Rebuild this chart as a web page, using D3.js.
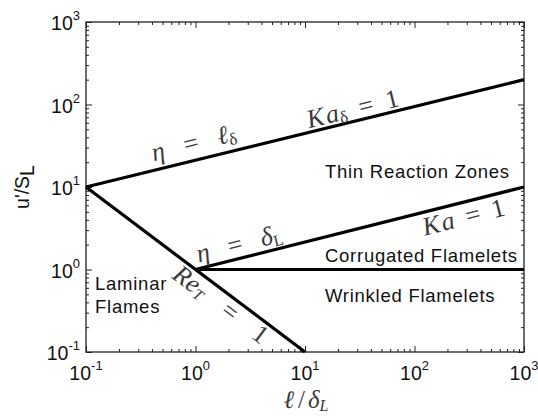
<!DOCTYPE html>
<html>
<head>
<meta charset="utf-8">
<script src="https://cdn.jsdelivr.net/npm/d3@7"></script>
<style>
  body { margin: 0; background: #fff; }
  svg { display: block; }
  .sans { font-family: "Liberation Sans", Arial, sans-serif; }
  .math { font-family: "Liberation Serif", "DejaVu Serif", serif; fill: #3a3a3a; }
</style>
</head>
<body>
<div id="chart"></div>
<script>
// regime diagram data (log-log)
const xDomain = [0.1, 1000];
const yDomain = [0.1, 1000];
const decadeTicks = [0.1, 1, 10, 100, 1000];
const tickExponents = ["-1", "0", "1", "2", "3"];

const etaEllLine = [[0.1, 10], [1000, 200]];   // eta = l_delta  (Ka_delta = 1)
const kaLine = [[1, 1], [1000, 10]];           // eta = delta_L  (Ka = 1)
const reLine = [[0.1, 10], [10, 0.1]];          // Re_T = 1
const unityLine = [[1, 1], [1000, 1]];          // u'/S_L = 1

const regionNames = ["Thin Reaction Zones", "Corrugated Flamelets", "Wrinkled Flamelets"];
const laminarName = ["Laminar", "Flames"];

const W = 538, H = 416;
const margin = {left: 86, right: 14, top: 22, bottom: 64};

const svg = d3.select('#chart').append('svg')
    .attr('width', W)
    .attr('height', H);

const x = d3.scaleLog().domain(xDomain).range([margin.left, W - margin.right]);
const y = d3.scaleLog().domain(yDomain).range([H - margin.bottom, margin.top]);

let minor = [];
decadeTicks.slice(0, -1).forEach(d => {
    for (let k = 2; k <= 9; k++) minor.push(d * k);
});

// minor + major ticks on all four sides, pointing inward
const axes = [
    {ax: d3.axisBottom(x), tr: `translate(0,${y(0.1)})`},
    {ax: d3.axisTop(x), tr: `translate(0,${y(1000)})`},
    {ax: d3.axisLeft(y), tr: `translate(${x(0.1)},0)`},
    {ax: d3.axisRight(y), tr: `translate(${x(1000)},0)`}
];
axes.forEach(a => {
    svg.append('g').attr('transform', a.tr)
        .call(a.ax.tickValues(minor).tickSize(-3).tickFormat(''))
        .call(g => g.select('.domain').remove())
        .selectAll('line').attr('stroke', '#222');
    svg.append('g').attr('transform', a.tr)
        .call(a.ax.tickValues(decadeTicks).tickSize(-6).tickFormat(''))
        .call(g => g.select('.domain').remove())
        .selectAll('line').attr('stroke', '#222');
});

svg.append('rect')
    .attr('x', x(0.1))
    .attr('y', y(1000))
    .attr('width', x(1000) - x(0.1))
    .attr('height', y(0.1) - y(1000))
    .attr('fill', 'none')
    .attr('stroke', '#222')
    .attr('stroke-width', 1.3);

// tick labels 10^n
decadeTicks.forEach((d, i) => {
    let t = svg.append('text').attr('class', 'sans')
        .attr('x', x(d)).attr('y', y(0.1) + 28)
        .attr('text-anchor', 'middle')
        .style('font-size', '19.5px').attr('fill', '#111');
    t.append('tspan').text('10');
    t.append('tspan').attr('dy', -10).style('font-size', '13px').text(tickExponents[i]);

    let s = svg.append('text').attr('class', 'sans')
        .attr('x', x(0.1) - 6).attr('y', y(d) + 8)
        .attr('text-anchor', 'end')
        .style('font-size', '19.5px').attr('fill', '#111');
    s.append('tspan').text('10');
    s.append('tspan').attr('dy', -10).style('font-size', '13px').text(tickExponents[i]);
});

const line = d3.line().x(d => x(d[0])).y(d => y(d[1]));
[etaEllLine, kaLine, reLine, unityLine].forEach(l => {
    svg.append('path')
        .datum(l)
        .attr('d', line)
        .attr('stroke', '#000')
        .attr('stroke-width', 3.2)
        .attr('fill', 'none');
});

// put a label along a line at a given x value
function lineLabel(l, xv, offset, parts) {
    let p0 = [x(l[0][0]), y(l[0][1])], p1 = [x(l[1][0]), y(l[1][1])];
    let px = x(xv);
    let py = p0[1] + (p1[1] - p0[1]) * (px - p0[0]) / (p1[0] - p0[0]);
    let ang = Math.atan2(p1[1] - p0[1], p1[0] - p0[0]) * 180 / Math.PI;
    let t = svg.append('g')
        .attr('transform', `translate(${px},${py}) rotate(${ang})`)
        .append('text').attr('class', 'math')
        .attr('y', offset)
        .attr('text-anchor', 'middle')
        .style('font-size', '26px');
    parts.forEach(p => {
        let s = t.append('tspan').text(p.t);
        if (p.it) s.style('font-style', 'italic');
        if (p.dx) s.attr('dx', p.dx);
        if (p.dy) s.attr('dy', p.dy);
        if (p.fs) s.style('font-size', p.fs);
    });
}

lineLabel(etaEllLine, 1.05, -9, [
    {t: 'η', it: true}, {t: '=', dx: 20}, {t: 'ℓ', it: true, dx: 20}, {t: 'δ', dy: 3, fs: '17px'}
]);
lineLabel(etaEllLine, 29, -4, [
    {t: 'K', it: true}, {t: 'a', it: true, dx: 2}, {t: 'δ', dy: 3, fs: '17px'}, {t: '=', dx: 13, dy: -3}, {t: '1', dx: 13}
]);
lineLabel(kaLine, 2.7, -6, [
    {t: 'η', it: true}, {t: '=', dx: 19}, {t: 'δ', it: true, dx: 19}, {t: 'L', dy: 3, fs: '16px'}
]);
lineLabel(kaLine, 260, 23, [
    {t: 'K', it: true}, {t: 'a', it: true, dx: 2}, {t: '=', dx: 12}, {t: '1', dx: 12}
]);
lineLabel(reLine, 2.0, 21, [
    {t: 'R', it: true}, {t: 'e', it: true}, {t: 'T', it: true, dy: 3, fs: '16px'}, {t: '=', dx: 24, dy: -3}, {t: '1', dx: 24}
]);

// region names
const regionAt = [[15.2, 178], [15.2, 262], [15.2, 302]];
regionNames.forEach((n, i) => {
    svg.append('text').attr('class', 'sans')
        .attr('x', x(regionAt[i][0])).attr('y', regionAt[i][1])
        .style('font-size', '18.5px')
        .style('letter-spacing', '0.75px')
        .attr('fill', '#111')
        .text(n);
});
laminarName.forEach((n, i) => {
    svg.append('text').attr('class', 'sans')
        .attr('x', x(0.1) + 9).attr('y', 290 + i * 23)
        .style('font-size', '18.5px')
        .style('letter-spacing', '0.75px')
        .attr('fill', '#111')
        .text(n);
});

// axis titles
let xl = svg.append('text').attr('class', 'math')
    .attr('x', x(10) + 1).attr('y', 408)
    .attr('text-anchor', 'middle')
    .style('font-size', '25px').attr('fill', '#222');
xl.append('tspan').style('font-style', 'italic').text('ℓ');
xl.append('tspan').attr('dx', 4).text('/');
xl.append('tspan').attr('dx', 3).style('font-style', 'italic').text('δ');
xl.append('tspan').attr('dy', 3).style('font-size', '16px').style('font-style', 'italic').text('L');

let yl = svg.append('text').attr('class', 'sans')
    .attr('transform', `translate(29,187) rotate(-90)`)
    .attr('text-anchor', 'middle')
    .style('font-size', '19.5px').attr('fill', '#111');
yl.append('tspan').text("u'/S");
yl.append('tspan').attr('dy', 5).text('L');
</script>
</body>
</html>
